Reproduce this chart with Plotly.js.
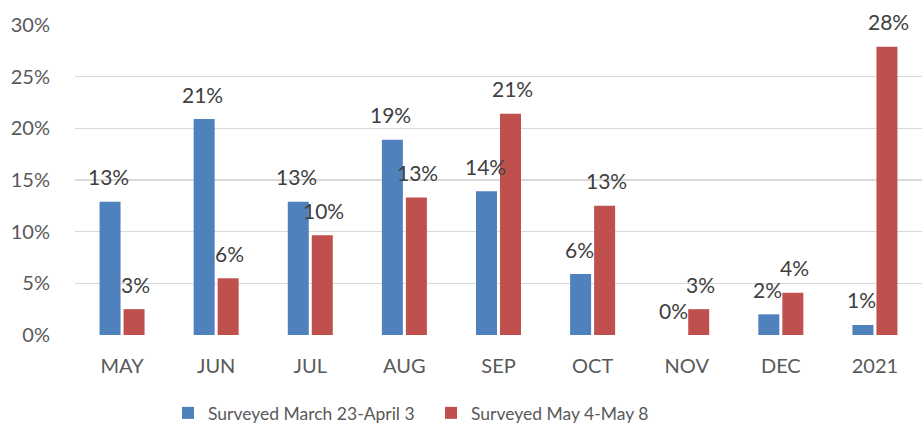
<!DOCTYPE html>
<html>
<head>
<meta charset="utf-8">
<script src="https://cdn.plot.ly/plotly-3.0.1.min.js"></script>
<style>html,body{margin:0;padding:0;background:#fff;}#chart{width:922px;height:426px;}</style>
</head>
<body>
<div id="chart"></div>
<script>
const categories = ["MAY","JUN","JUL","AUG","SEP","OCT","NOV","DEC","2021"];
const seriesNames = ["Surveyed March 23-April 3","Surveyed May 4-May 8"];
const marchValues = [12.9, 20.9, 12.9, 18.9, 13.9, 5.9, 0, 2.0, 0.97];
const mayValues   = [2.5, 5.5, 9.65, 13.3, 21.4, 12.5, 2.5, 4.1, 27.9];
const marchLabels = ["13%","21%","13%","19%","14%","6%","0%","2%","1%"];
const mayLabels   = ["3%","6%","10%","13%","21%","13%","3%","4%","28%"];
const yTicks = [0,5,10,15,20,25,30];

const colors = ["#4f81bd","#c0504d"];
const fontFam = "Lato, 'Open Sans', sans-serif";

const traces = [
  {type:"bar", name:seriesNames[0], x:categories, y:marchValues, marker:{color:colors[0]}, hoverinfo:"none"},
  {type:"bar", name:seriesNames[1], x:categories, y:mayValues, marker:{color:colors[1]}, hoverinfo:"none"}
];

const annotations = [];
categories.forEach((c,i)=>{
  annotations.push({x:i, y:marchValues[i], xref:"x", yref:"y", text:marchLabels[i], showarrow:false,
    xshift:-13.5, yshift:25, yanchor:"middle", font:{family:fontFam, size:21, color:"#404040"}});
  annotations.push({x:i, y:mayValues[i], xref:"x", yref:"y", text:mayLabels[i], showarrow:false,
    xshift:13.5, yshift:25, yanchor:"middle", font:{family:fontFam, size:21, color:"#404040"}});
});

const layout = {
  width:922, height:426,
  margin:{l:75, r:0, t:25, b:91, autoexpand:false},
  paper_bgcolor:"#fff", plot_bgcolor:"#fff",
  barmode:"group", bargap:0.49, bargroupgap:0.125,
  font:{family:fontFam, size:19, color:"#595959"},
  xaxis:{type:"category", range:[-0.5, categories.length-0.5], autorange:false,
    showgrid:false, zeroline:false, showline:false,
    ticks:"outside", ticklen:13, tickcolor:"rgba(0,0,0,0)",
    tickfont:{family:fontFam, size:20, color:"#595959"}},
  yaxis:{range:[0,30], autorange:false, tickvals:yTicks, ticktext:yTicks.map(v=>v+"%"),
    showgrid:true, gridcolor:"#d9d9d9", gridwidth:1.5, zeroline:false, showline:false,
    ticks:"outside", ticklen:20, tickcolor:"rgba(0,0,0,0)",
    tickfont:{family:fontFam, size:20, color:"#595959"}},
  showlegend:true,
  legend:{orientation:"h", x:(168-75)/847, xanchor:"left", y:-0.2516, yanchor:"middle",
    font:{family:fontFam, size:17.5, color:"#595959"}, itemwidth:30,
    entrywidth:218, entrywidthmode:"pixels"},
  annotations:annotations
};

Plotly.newPlot("chart", traces, layout, {displayModeBar:false, staticPlot:true});
</script>
</body>
</html>
